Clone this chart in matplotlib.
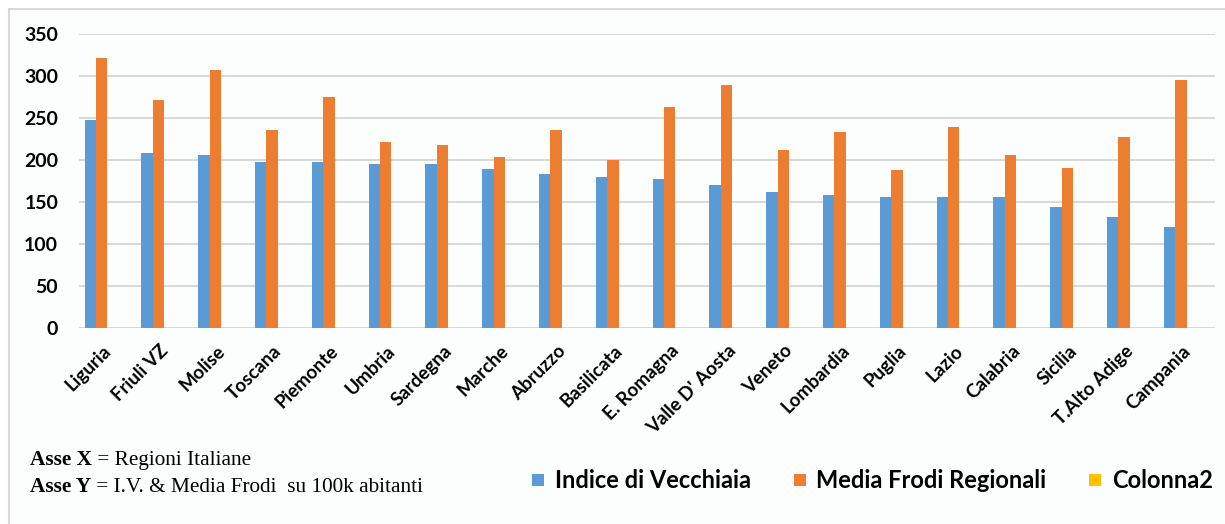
import matplotlib
matplotlib.use("Agg")
import matplotlib.pyplot as plt
import matplotlib.transforms as mtransforms
from matplotlib.patches import Rectangle
from matplotlib.lines import Line2D
import numpy as np

regions = ["Liguria", "Friuli VZ", "Molise", "Toscana", "Piemonte", "Umbria",
           "Sardegna", "Marche", "Abruzzo", "Basilicata", "E. Romagna",
           "Valle D' Aosta", "Veneto", "Lombardia", "Puglia", "Lazio",
           "Calabria", "Sicilia", "T.Alto Adige", "Campania"]
indice_vecchiaia = [248, 209, 206, 198, 198, 195, 195, 189, 183, 180, 177,
                    171, 162, 159, 156, 156, 156, 144, 132, 120]
media_frodi = [322, 272, 307, 236, 275, 221, 218, 204, 236, 200, 263,
               289, 212, 233, 188, 239, 206, 191, 227, 295]
series_names = ["Indice di Vecchiaia", "Media Frodi Regionali", "Colonna2"]
y_ticks = [0, 50, 100, 150, 200, 250, 300, 350]

C_BLUE = "#5B9BD5"
C_ORANGE = "#ED7D31"
C_YELLOW = "#FFC000"
C_GRID = "#D9D9D9"

W, H = 1225, 524
fig = plt.figure(figsize=(W / 100, H / 100), dpi=100, facecolor="white")

# chart area border
fig.patches.append(Rectangle((9 / W, -0.05), 1.1, 1 - 9 / H + 0.05,
                             transform=fig.transFigure, facecolor="#FCFDFD",
                             edgecolor=C_GRID, linewidth=1.5, zorder=-10))

ax = fig.add_axes([79 / W, 1 - 328.3 / H, (1215 - 79) / W, (328.3 - 34) / H])
ax.set_facecolor("none")

x = np.arange(len(regions))
bw = 0.2
ax.bar(x - 2 * bw, indice_vecchiaia, width=bw, align="edge", color=C_BLUE,
       label=series_names[0], zorder=3)
ax.bar(x - bw, media_frodi, width=bw, align="edge", color=C_ORANGE,
       label=series_names[1], zorder=3)

ax.set_xlim(-0.5, len(regions) - 0.5)
ax.set_ylim(0, 350)
ax.set_yticks(y_ticks)
ax.set_yticklabels([str(v) for v in y_ticks], fontfamily="Lato",
                   fontweight="bold", fontsize=14)
ax.yaxis.grid(True, color=C_GRID, linewidth=1.4, zorder=0)
ax.set_axisbelow(True)
ax.tick_params(axis="y", length=0, pad=15)
ax.tick_params(axis="x", length=0, pad=10)
for s in ax.spines.values():
    s.set_visible(False)

ax.set_xticks(x)
ax.set_xticklabels(regions, rotation=45, ha="right", va="top",
                   fontfamily="Lato", fontweight="bold", fontsize=13.5)
off = mtransforms.ScaledTranslation(7 / 100, 0, fig.dpi_scale_trans)
for lab in ax.get_xticklabels():
    lab.set_transform(lab.get_transform() + off)

# legend with square swatches
handles = [Line2D([], [], linestyle="none", marker="s", markersize=8.6,
                  markerfacecolor=c, markeredgewidth=0)
           for c in (C_BLUE, C_ORANGE, C_YELLOW)]
fig.legend(handles, series_names, loc="center",
           bbox_to_anchor=((532 + 1213) / 2 / W, 1 - 481 / H), ncol=3,
           frameon=False, prop={"family": "Lato", "weight": "bold", "size": 17},
           handlelength=0.52, handletextpad=0.45, numpoints=1,
           columnspacing=1.8, borderaxespad=0, borderpad=0)

# axis description text
serif = "Liberation Serif"
t1 = fig.text(30 / W, 1 - 465 / H, "Asse X", fontfamily=serif,
              fontweight="bold", fontsize=15.3, va="baseline", ha="left")
fig.add_artist(matplotlib.text.Annotation(
    " = Regioni Italiane", xy=(1, 0), xycoords=t1, xytext=(0, 0),
    textcoords="offset points", fontfamily=serif, fontsize=15.3,
    va="bottom", ha="left", annotation_clip=False))
t2 = fig.text(30 / W, 1 - 492 / H, "Asse Y", fontfamily=serif,
              fontweight="bold", fontsize=15.3, va="baseline", ha="left")
fig.add_artist(matplotlib.text.Annotation(
    " = I.V. & Media Frodi  su 100k abitanti", xy=(1, 0), xycoords=t2,
    xytext=(0, 0), textcoords="offset points", fontfamily=serif,
    fontsize=15.3, va="bottom", ha="left", annotation_clip=False))

fig.savefig("out.png", dpi=100, facecolor="white")
